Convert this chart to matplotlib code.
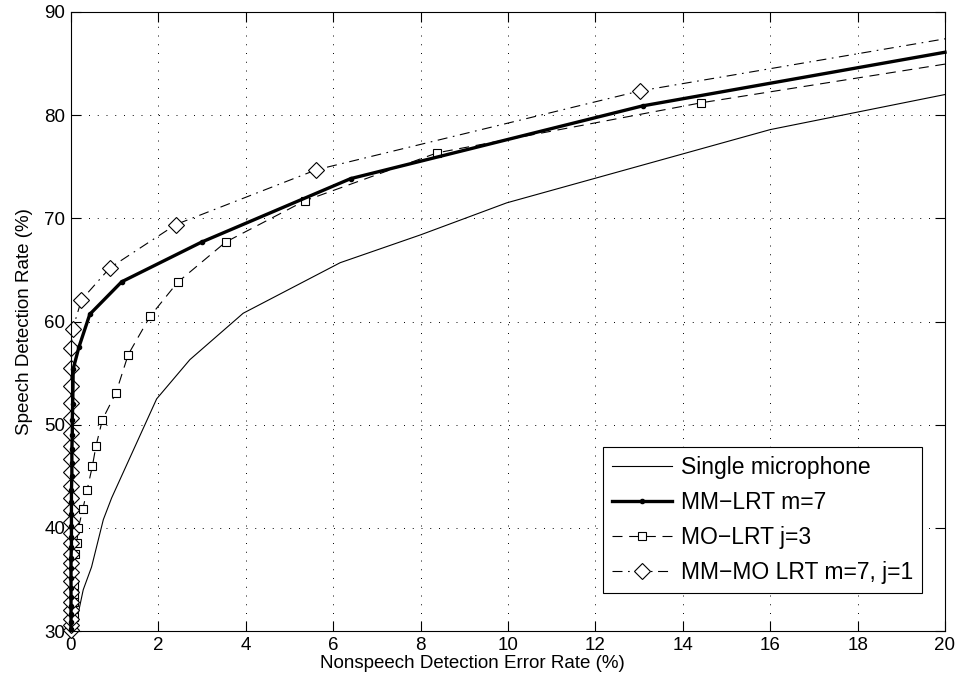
import matplotlib
matplotlib.use("Agg")
import matplotlib.pyplot as plt

plt.rcParams['font.family'] = ['Liberation Sans', 'DejaVu Sans']

# Single microphone LRT
single_x = [0.09, 0.13, 0.28, 0.47, 0.74, 0.93, 1.96, 2.72, 3.94, 6.16, 8.0, 9.97, 16.0, 20.0]
single_y = [30.1, 31.0, 34.0, 36.2, 40.8, 42.9, 52.5, 56.3, 60.8, 65.7, 68.4, 71.5, 78.6, 82.0]

# MM-LRT m=7
mm_x = [0.0, 0.0, 0.0, 0.0, 0.0, 0.0, 0.0, 0.0, 0.0, 0.01, 0.01, 0.01, 0.01,
        0.01, 0.01, 0.02, 0.02, 0.02, 0.03, 0.03, 0.04, 0.05, 0.18, 0.43,
        1.16, 2.99, 6.40, 13.08, 20.0]
mm_y = [30.2, 30.9, 31.6, 32.4, 33.3, 34.2, 35.1, 36.1, 37.1, 38.1, 39.1, 40.2,
        41.3, 42.5, 43.7, 45.0, 46.3, 47.6, 49.0, 50.5, 52.0, 55.4, 57.5, 60.7,
        63.85, 67.7, 73.85, 80.9, 86.1]

# MO-LRT j=3
mo_x = [0.05, 0.06, 0.06, 0.07, 0.08, 0.09, 0.13, 0.17, 0.27, 0.37, 0.49, 0.57,
        0.72, 1.03, 1.31, 1.81, 2.44, 3.54, 5.35, 8.38, 14.42, 20.0]
mo_y = [30.4, 31.4, 32.8, 33.6, 34.5, 37.5, 38.5, 40.0, 41.8, 43.7, 46.0, 47.9,
        50.5, 53.1, 56.8, 60.5, 63.8, 67.7, 71.7, 76.35, 81.2, 84.95]

# MM-MO LRT m=7, j=1
mmmo_x = [0.0, 0.0, 0.0, 0.0, 0.0, 0.0, 0.0, 0.0, 0.0, 0.0, 0.0, 0.0, 0.0,
          0.0, 0.0, 0.0, 0.0, 0.0, 0.0, 0.0, 0.0, 0.0, 0.0, 0.0, 0.0, 0.04,
          0.24, 0.89, 2.40, 5.61, 13.02, 20.0]
mmmo_y = [30.1, 30.6, 31.2, 32.0, 32.8, 33.8, 34.8, 35.7, 36.6, 37.5, 38.5,
          39.5, 40.6, 41.7, 42.9, 44.1, 45.4, 46.7, 47.9, 49.2, 50.6, 52.1,
          53.7, 55.5, 57.4, 59.3, 62.1, 65.2, 69.4, 74.7, 82.35, 87.4]

x_ticks = list(range(0, 21, 2))
y_ticks = list(range(30, 91, 10))

fig = plt.figure(figsize=(9.57, 6.87), dpi=100)
ax = fig.add_axes([71 / 957, 56 / 687, 874 / 957, 619 / 687])


def no_last(xs):
    # markers on every sample except the endpoint at the right axis edge
    return list(range(len(xs) - 1))


ax.plot(single_x, single_y, color='black', lw=0.8, label='Single microphone')
ax.plot(mm_x, mm_y, color='black', lw=2.4, marker='.', markersize=6,
        markevery=no_last(mm_x), clip_on=False, zorder=3,
        label='MM\u2212LRT m=7')
ax.plot(mo_x, mo_y, color='black', lw=0.8, linestyle=(0, (9, 6)),
        marker='s', markersize=5.5, markerfacecolor='white',
        markeredgewidth=0.8, markevery=no_last(mo_x), clip_on=False,
        label='MO\u2212LRT j=3')
ax.plot(mmmo_x, mmmo_y, color='black', lw=0.8,
        linestyle=(0, (9, 5, 1.5, 5)), marker='D', markersize=8,
        markerfacecolor='white', markeredgewidth=0.8,
        markevery=no_last(mmmo_x), clip_on=False,
        label='MM\u2212MO LRT m=7, j=1')

ax.set_xlim(0, 20)
ax.set_ylim(30, 90)
ax.set_xticks(x_ticks)
ax.set_yticks(y_ticks)
ax.tick_params(direction='in', length=7, width=0.8, top=True, right=True,
               labelsize=13.5, pad=4)
ax.grid(True, color='black', linestyle=(0, (1, 8)), linewidth=0.7)
for s in ax.spines.values():
    s.set_linewidth(0.8)
    s.set_zorder(4)

ax.set_xlabel('Nonspeech Detection Error Rate (%)', fontsize=13.5, labelpad=2)
ax.xaxis.set_label_coords(0.459, -0.038)
ax.set_ylabel('Speech Detection Rate (%)', fontsize=13.5, labelpad=8)

leg = ax.legend(loc='lower right', bbox_to_anchor=(922 / 957, 94 / 687),
                bbox_transform=fig.transFigure, borderaxespad=0,
                fontsize=16.5, frameon=True, fancybox=False,
                edgecolor='black', framealpha=1, handlelength=2.6,
                borderpad=0.4, labelspacing=0.52, handletextpad=0.38)
leg.get_frame().set_linewidth(0.8)
leg.set_zorder(5)

fig.savefig('out.png', dpi=100)
